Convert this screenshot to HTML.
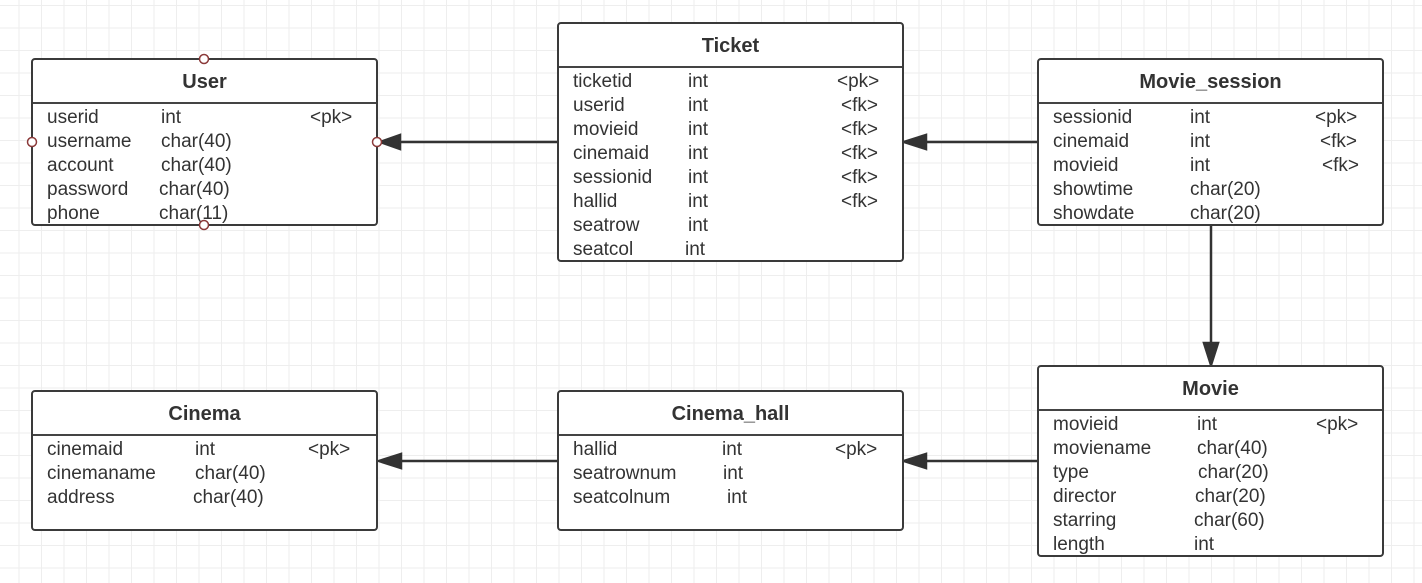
<!DOCTYPE html>
<html><head><meta charset="utf-8"><style>
body{margin:0;width:1422px;height:583px;overflow:hidden;background:#fff;
background-image:linear-gradient(#eeeeee 1px,transparent 1px),linear-gradient(90deg,#eeeeee 1px,transparent 1px);
background-size:22.5px 22.5px;background-position:-4px 5px;font-family:"Liberation Sans","Noto Sans CJK SC",sans-serif;color:#333;position:relative}
.b{position:absolute;border:2.5px solid #3a3a3a;border-radius:4px;background:#fff;box-sizing:border-box}
.h{height:42px;border-bottom:2px solid #444;text-align:center;font-weight:bold;font-size:20px;line-height:44px;margin-bottom:2px}
.r{position:relative;height:24px;font-size:19px;line-height:24px}
.r span{position:absolute;top:0}
svg{position:absolute;left:0;top:0}
</style></head><body>
<svg width="1422" height="583">
<g stroke="#333" stroke-width="2.5" fill="#333">
<line x1="557" y1="142" x2="395" y2="142"/><polygon points="380,142 400,135 400,149"/>
<line x1="1037" y1="142" x2="920" y2="142"/><polygon points="904,142 926,135 926,149"/>
<line x1="1211" y1="225" x2="1211" y2="350"/><polygon points="1211,365 1204,343 1218,343"/>
<line x1="1037" y1="461" x2="920" y2="461"/><polygon points="904,461 926,454 926,468"/>
<line x1="557" y1="461" x2="395" y2="461"/><polygon points="379,461 401,454 401,468"/>
</g>
</svg>
<div class="b" style="left:31px;top:58px;width:347px;height:168px"><div class="h">User</div>
<div class="r"><span style="left:14px">userid</span><span style="left:128px">int</span><span style="left:277px">&lt;pk&gt;</span></div>
<div class="r"><span style="left:14px">username</span><span style="left:128px">char(40)</span></div>
<div class="r"><span style="left:14px">account</span><span style="left:128px">char(40)</span></div>
<div class="r"><span style="left:14px">password</span><span style="left:126px">char(40)</span></div>
<div class="r"><span style="left:14px">phone</span><span style="left:126px">char(11)</span></div></div>
<div class="b" style="left:557px;top:22px;width:347px;height:240px"><div class="h">Ticket</div>
<div class="r"><span style="left:14px">ticketid</span><span style="left:129px">int</span><span style="left:278px">&lt;pk&gt;</span></div>
<div class="r"><span style="left:14px">userid</span><span style="left:129px">int</span><span style="left:282px">&lt;fk&gt;</span></div>
<div class="r"><span style="left:14px">movieid</span><span style="left:129px">int</span><span style="left:282px">&lt;fk&gt;</span></div>
<div class="r"><span style="left:14px">cinemaid</span><span style="left:129px">int</span><span style="left:282px">&lt;fk&gt;</span></div>
<div class="r"><span style="left:14px">sessionid</span><span style="left:129px">int</span><span style="left:282px">&lt;fk&gt;</span></div>
<div class="r"><span style="left:14px">hallid</span><span style="left:129px">int</span><span style="left:282px">&lt;fk&gt;</span></div>
<div class="r"><span style="left:14px">seatrow</span><span style="left:129px">int</span></div>
<div class="r"><span style="left:14px">seatcol</span><span style="left:126px">int</span></div></div>
<div class="b" style="left:1037px;top:58px;width:347px;height:168px"><div class="h">Movie_session</div>
<div class="r"><span style="left:14px">sessionid</span><span style="left:151px">int</span><span style="left:276px">&lt;pk&gt;</span></div>
<div class="r"><span style="left:14px">cinemaid</span><span style="left:151px">int</span><span style="left:281px">&lt;fk&gt;</span></div>
<div class="r"><span style="left:14px">movieid</span><span style="left:151px">int</span><span style="left:283px">&lt;fk&gt;</span></div>
<div class="r"><span style="left:14px">showtime</span><span style="left:151px">char(20)</span></div>
<div class="r"><span style="left:14px">showdate</span><span style="left:151px">char(20)</span></div></div>
<div class="b" style="left:1037px;top:365px;width:347px;height:192px"><div class="h">Movie</div>
<div class="r"><span style="left:14px">movieid</span><span style="left:158px">int</span><span style="left:277px">&lt;pk&gt;</span></div>
<div class="r"><span style="left:14px">moviename</span><span style="left:158px">char(40)</span></div>
<div class="r"><span style="left:14px">type</span><span style="left:159px">char(20)</span></div>
<div class="r"><span style="left:14px">director</span><span style="left:156px">char(20)</span></div>
<div class="r"><span style="left:14px">starring</span><span style="left:155px">char(60)</span></div>
<div class="r"><span style="left:14px">length</span><span style="left:155px">int</span></div></div>
<div class="b" style="left:557px;top:390px;width:347px;height:141px"><div class="h">Cinema_hall</div>
<div class="r"><span style="left:14px">hallid</span><span style="left:163px">int</span><span style="left:276px">&lt;pk&gt;</span></div>
<div class="r"><span style="left:14px">seatrownum</span><span style="left:164px">int</span></div>
<div class="r"><span style="left:14px">seatcolnum</span><span style="left:168px">int</span></div></div>
<div class="b" style="left:31px;top:390px;width:347px;height:141px"><div class="h">Cinema</div>
<div class="r"><span style="left:14px">cinemaid</span><span style="left:162px">int</span><span style="left:275px">&lt;pk&gt;</span></div>
<div class="r"><span style="left:14px">cinemaname</span><span style="left:162px">char(40)</span></div>
<div class="r"><span style="left:14px">address</span><span style="left:160px">char(40)</span></div></div>
<svg width="1422" height="583" style="pointer-events:none">
<g fill="#fff" stroke="#8b3a3a" stroke-width="1.5">
<circle cx="204" cy="59" r="4.5"/><circle cx="204" cy="225" r="4.5"/><circle cx="32" cy="142" r="4.5"/><circle cx="377" cy="142" r="4.5"/>
</g></svg>
</body></html>
